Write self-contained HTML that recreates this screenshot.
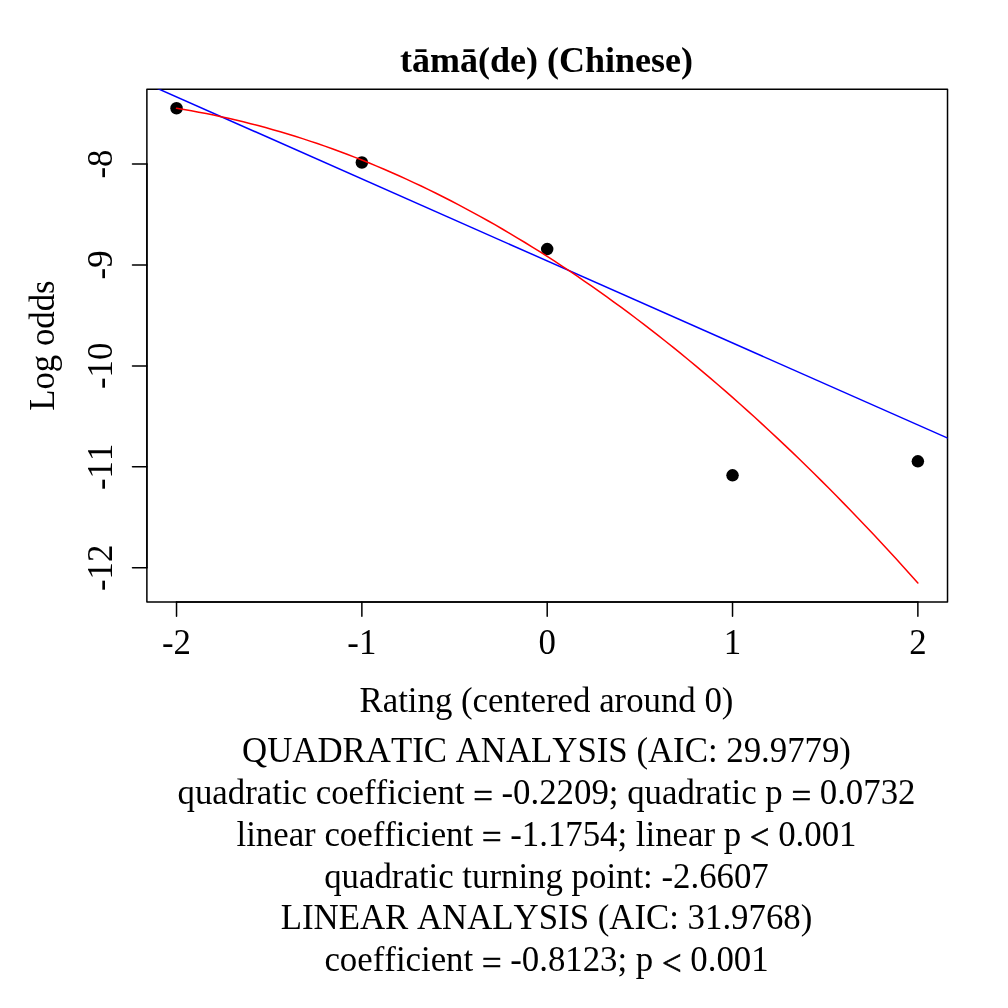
<!DOCTYPE html>
<html><head><meta charset="utf-8"><title>tāmā(de) (Chinese)</title>
<style>
html,body{margin:0;padding:0;background:#fff;}
svg{display:block;}
text{font-kerning:none;font-variant-ligatures:none;font-family:"Liberation Serif","Noto Serif CJK SC",serif;fill:#000;}
.l{font-size:34.8px;}
.m{text-anchor:middle;}
.sy{stroke:#000;stroke-width:0.6px;}
</style></head><body>
<svg width="1008" height="1008" viewBox="0 0 1008 1008">
<defs><clipPath id="plotclip"><rect x="146.88" y="89.28" width="800.64" height="512.64"/></clipPath></defs>
<rect x="0" y="0" width="1008" height="1008" fill="#fff"/>
<g fill="#000">
<circle cx="176.53" cy="108.27" r="6.25"/>
<circle cx="361.87" cy="162.46" r="6.25"/>
<circle cx="547.2" cy="249.1" r="6.25"/>
<circle cx="732.53" cy="475.36" r="6.25"/>
<circle cx="917.87" cy="461.35" r="6.25"/>
</g>
<g fill="none" stroke="#000" stroke-width="1.5" stroke-linecap="round" stroke-linejoin="round">
<path d="M176.53,601.92L917.87,601.92"/>
<path d="M176.53,601.92L176.53,616.32"/>
<path d="M361.87,601.92L361.87,616.32"/>
<path d="M547.20,601.92L547.20,616.32"/>
<path d="M732.53,601.92L732.53,616.32"/>
<path d="M917.87,601.92L917.87,616.32"/>
<path d="M146.88,164.00L146.88,567.80"/>
<path d="M146.88,164.00L132.48,164.00"/>
<path d="M146.88,264.95L132.48,264.95"/>
<path d="M146.88,365.90L132.48,365.90"/>
<path d="M146.88,466.85L132.48,466.85"/>
<path d="M146.88,567.80L132.48,567.80"/>
<path d="M146.88,601.92L947.52,601.92L947.52,89.28L146.88,89.28Z"/>
</g>
<path d="M120.93,72.31L973.47,449.52" fill="none" stroke="#0000ff" stroke-width="1.5" stroke-linecap="butt" clip-path="url(#plotclip)"/>
<path d="M176.53,108.32 L183.95,109.53 L191.36,110.82 L198.77,112.17 L206.19,113.60 L213.60,115.10 L221.01,116.67 L228.43,118.31 L235.84,120.03 L243.25,121.81 L250.67,123.67 L258.08,125.59 L265.49,127.59 L272.91,129.66 L280.32,131.81 L287.73,134.02 L295.15,136.30 L302.56,138.66 L309.97,141.09 L317.39,143.58 L324.80,146.15 L332.21,148.79 L339.63,151.51 L347.04,154.29 L354.45,157.15 L361.87,160.07 L369.28,163.07 L376.69,166.14 L384.11,169.28 L391.52,172.49 L398.93,175.78 L406.35,179.13 L413.76,182.56 L421.17,186.05 L428.59,189.62 L436.00,193.26 L443.41,196.98 L450.83,200.76 L458.24,204.61 L465.65,208.54 L473.07,212.54 L480.48,216.60 L487.89,220.74 L495.31,224.95 L502.72,229.24 L510.13,233.59 L517.55,238.02 L524.96,242.51 L532.37,247.08 L539.79,251.72 L547.20,256.43 L554.61,261.21 L562.03,266.07 L569.44,270.99 L576.85,275.99 L584.27,281.05 L591.68,286.19 L599.09,291.40 L606.51,296.68 L613.92,302.04 L621.33,307.46 L628.75,312.96 L636.16,318.52 L643.57,324.16 L650.99,329.87 L658.40,335.65 L665.81,341.50 L673.23,347.43 L680.64,353.42 L688.05,359.49 L695.47,365.63 L702.88,371.84 L710.29,378.12 L717.71,384.47 L725.12,390.89 L732.53,397.39 L739.95,403.95 L747.36,410.59 L754.77,417.30 L762.19,424.08 L769.60,430.93 L777.01,437.85 L784.43,444.85 L791.84,451.91 L799.25,459.05 L806.67,466.26 L814.08,473.54 L821.49,480.89 L828.91,488.31 L836.32,495.80 L843.73,503.37 L851.15,511.00 L858.56,518.71 L865.97,526.49 L873.39,534.34 L880.80,542.26 L888.21,550.26 L895.63,558.32 L903.04,566.46 L910.45,574.66 L917.87,582.94" fill="none" stroke="#ff0000" stroke-width="1.5" stroke-linecap="round" stroke-linejoin="round"/>
<text class="l m" x="176.53" y="653.76">-2</text>
<text class="l m" x="361.87" y="653.76">-1</text>
<text class="l m" x="547.20" y="653.76">0</text>
<text class="l m" x="732.53" y="653.76">1</text>
<text class="l m" x="917.87" y="653.76">2</text>
<text class="l m" transform="translate(112.32,164.00) rotate(-90)">-8</text>
<text class="l m" transform="translate(112.32,264.95) rotate(-90)">-9</text>
<text class="l m" transform="translate(112.32,365.90) rotate(-90)">-10</text>
<text class="l m" transform="translate(112.32,466.85) rotate(-90)">-11</text>
<text class="l m" transform="translate(112.32,567.80) rotate(-90)">-12</text>
<text class="m" x="546.5" y="72.1" style="font-size:36px;font-weight:bold">tāmā(de) (Chinese)</text>
<text class="l m" x="546.5" y="712">Rating (centered around 0)</text>
<text class="l m" transform="translate(54.4,345.6) rotate(-90)">Log odds</text>
<text class="l m" x="546.5" y="761.70">QUADRATIC ANALYSIS (AIC: 29.9779)</text>
<text class="l m" x="546.5" y="804.30">quadratic coefficient <tspan class="sy" dy="3.2">=</tspan><tspan dy="-3.2"> -0.2209; quadratic p </tspan><tspan class="sy" dy="3.2">=</tspan><tspan dy="-3.2"> 0.0732</tspan></text>
<text class="l m" x="546.5" y="846.10">linear coefficient <tspan class="sy" dy="3.2">=</tspan><tspan dy="-3.2"> -1.1754; linear p </tspan><tspan class="sy" dy="3.2">&lt;</tspan><tspan dy="-3.2"> 0.001</tspan></text>
<text class="l m" x="546.5" y="887.90">quadratic turning point: -2.6607</text>
<text class="l m" x="546.5" y="929.40">LINEAR ANALYSIS (AIC: 31.9768)</text>
<text class="l m" x="546.5" y="971.30">coefficient <tspan class="sy" dy="3.2">=</tspan><tspan dy="-3.2"> -0.8123; p </tspan><tspan class="sy" dy="3.2">&lt;</tspan><tspan dy="-3.2"> 0.001</tspan></text>
</svg></body></html>
